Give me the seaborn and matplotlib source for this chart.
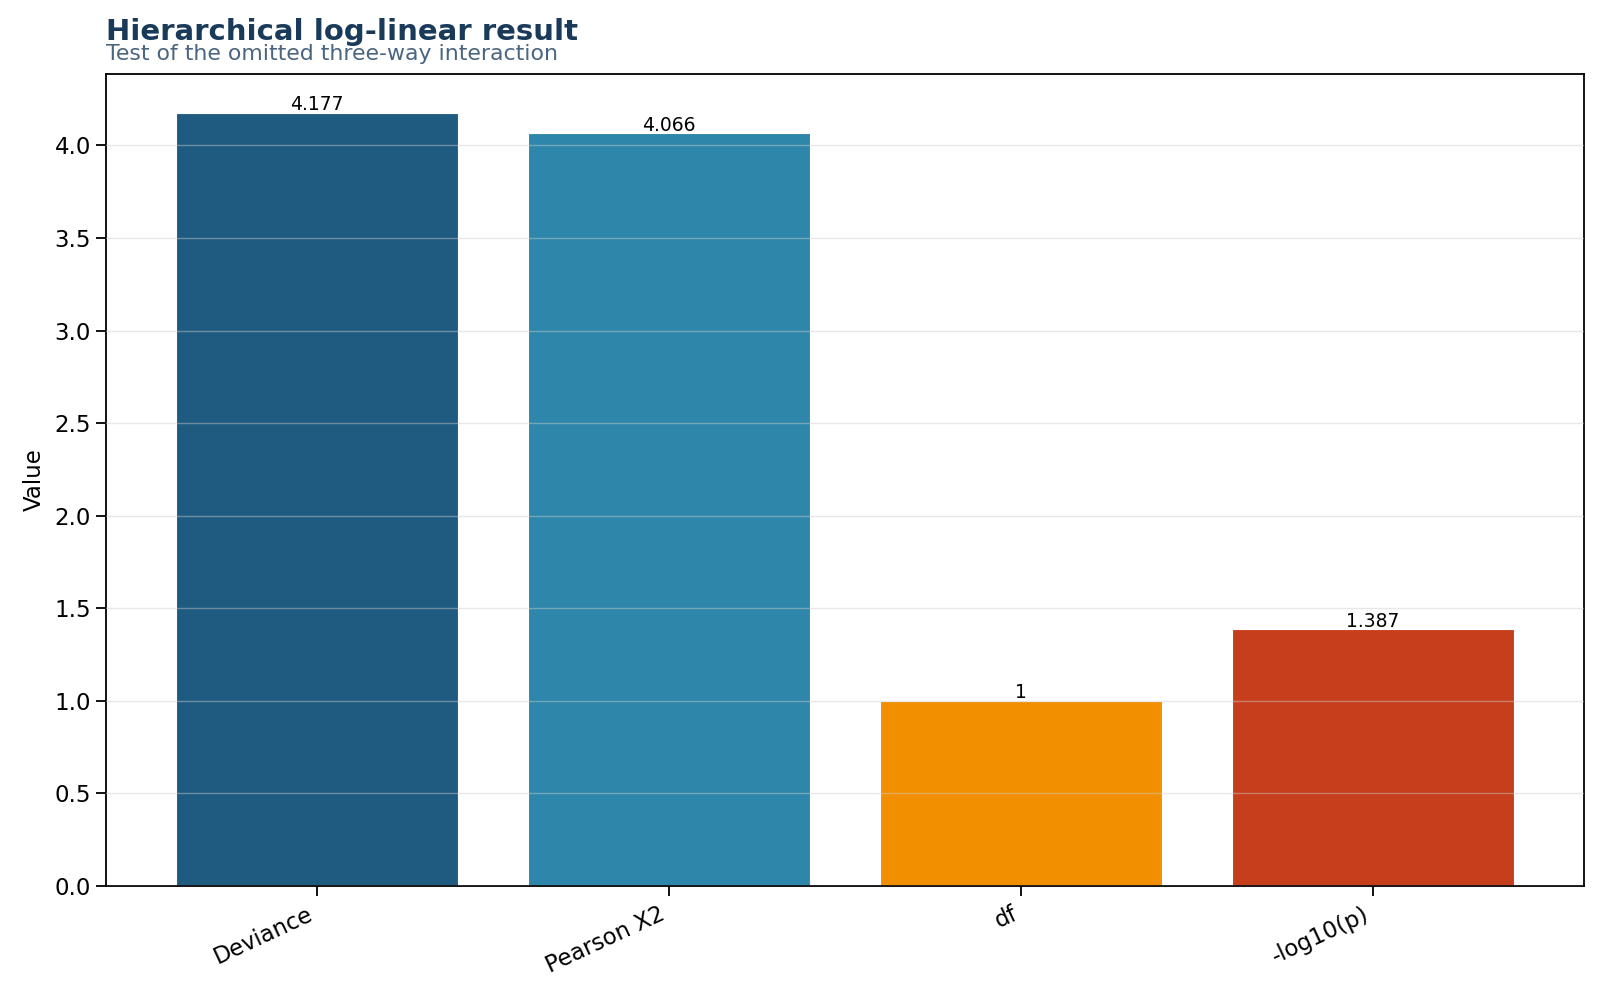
import pandas as pd
import numpy as np
import matplotlib
matplotlib.use('Agg')
import matplotlib.pyplot as plt
import seaborn as sns

# values
stats = ['Deviance', 'Pearson X2', 'df', '-log10(p)']
values = [4.177, 4.066, 1, 1.387]
colors = ['#1f5a80', '#2e86ab', '#f18f01', '#c73e1d']

df = pd.DataFrame({'stat': stats, 'value': values})

sns.set_style('ticks')
plt.rcParams['font.family'] = ['DejaVu Sans']

fig, ax = plt.subplots(figsize=(16, 10), dpi=100)
fig.subplots_adjust(left=0.066, right=0.99, top=0.926, bottom=0.114)

sns.barplot(data=df, x='stat', y='value', hue='stat', palette=colors,
            legend=False, width=0.8, edgecolor='white', linewidth=0.8,
            saturation=1, ax=ax)

# value labels on top of each bar
for cont in ax.containers:
    ax.bar_label(cont, labels=['{:g}'.format(v) for v in cont.datavalues],
                 fontsize=13.5, padding=-1, color='black')

ax.set_ylim(0, max(values) * 1.05)
ax.set_xlim(-0.6, 3.6)
ax.grid(axis='y', color='#cccccc', alpha=0.45, linewidth=1)
ax.set_axisbelow(False)
ax.set_xlabel('')
ax.set_ylabel('Value', fontsize=16.5, color='black', labelpad=6)
ax.tick_params(axis='both', labelsize=16.5, colors='black', length=7, width=1.3)
ax.tick_params(axis='x', pad=5)
plt.setp(ax.get_xticklabels(), rotation=25, ha='right', rotation_mode='default')
for s in ax.spines.values():
    s.set_color('black')
    s.set_linewidth(1.3)

# title block, left aligned with the axes
fig.text(0.066, 0.960, 'Hierarchical log-linear result', fontsize=21,
         fontweight='bold', color='#1a3a5a', ha='left', va='baseline')
fig.text(0.066, 0.940, 'Test of the omitted three-way interaction', fontsize=15.8,
         color='#4a6580', ha='left', va='baseline')

fig.savefig('out.png', dpi=100)
